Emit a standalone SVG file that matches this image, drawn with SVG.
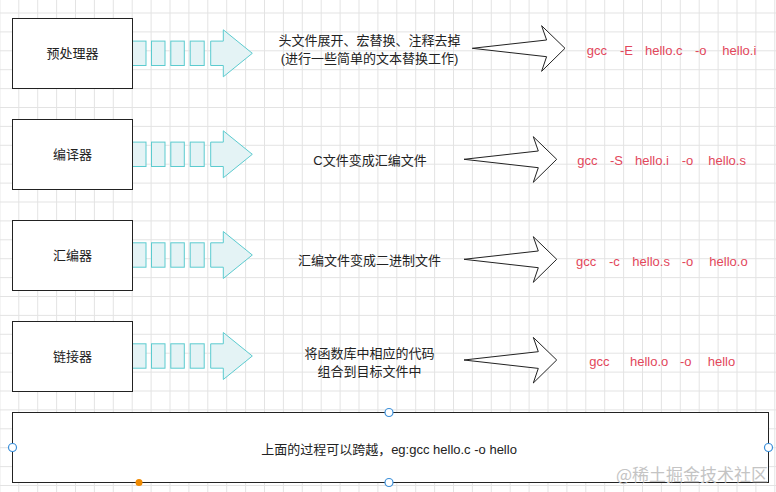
<svg xmlns="http://www.w3.org/2000/svg" width="776" height="492" viewBox="0 0 776 492">
<defs>
<style>
.box{fill:#ffffff;stroke:#222222;stroke-width:1}
.lbl{font-family:"Liberation Sans","Noto Sans CJK SC",sans-serif;font-size:13px;fill:#222222;text-anchor:middle}
.cmd{font-family:"Liberation Sans","Noto Sans CJK SC",sans-serif;font-size:13px;fill:#e2475b}
.cy{fill:#e4f3f5;stroke:#5ccbcf;stroke-width:1}
.out{fill:#ffffff;stroke:#222222;stroke-width:1;stroke-linejoin:miter}
.hdl{fill:#ffffff;stroke:#3b8fd9;stroke-width:1.2}
.wm{font-family:"Noto Sans CJK SC",sans-serif;font-size:17px;fill:#c4c4c4}
</style>
<pattern id="grid" patternUnits="userSpaceOnUse" x="18.3" y="12.5" width="18.9" height="18.9">
<path d="M0 0.5H18.9M0.5 0V18.9" fill="none" stroke="#e3e3e3" stroke-width="1"/>
</pattern>
<g id="cyanArrow">
<rect class="cy" x="132.5" y="-12.2" width="13.5" height="24.4"/>
<rect class="cy" x="151.5" y="-12.2" width="13.5" height="24.4"/>
<rect class="cy" x="170.8" y="-12.2" width="13.5" height="24.4"/>
<rect class="cy" x="190.2" y="-12.2" width="14" height="24.4"/>
<path class="cy" d="M210.7,-12.2H223.3V-23.5L252.3,0L223.3,23.5V12.2H210.7Z"/>
</g>
<path id="outArrow" class="out" d="M0,0L74.3,-8.3L69.3,-22.6L92.7,0L69.3,23L74.3,8.4Z"/>
</defs>
<rect width="776" height="492" fill="#ffffff"/>
<rect width="776" height="492" fill="url(#grid)"/>

<g id="connectors">
<use href="#cyanArrow" transform="translate(0,53.3)"/>
<use href="#cyanArrow" transform="translate(0,154.3)"/>
<use href="#cyanArrow" transform="translate(0,255)"/>
<use href="#cyanArrow" transform="translate(0,356)"/>
<use href="#outArrow" transform="translate(472.3,48.3)"/>
<use href="#outArrow" transform="translate(464,159.3)"/>
<use href="#outArrow" transform="translate(464,259.3)"/>
<use href="#outArrow" transform="translate(464,360)"/>
</g>

<g id="preprocessor">
<rect class="box" x="12.5" y="18.5" width="120" height="70"/>
<text class="lbl" x="72.5" y="58">预处理器</text>
</g>
<g id="compiler">
<rect class="box" x="12.5" y="119.5" width="120" height="70"/>
<text class="lbl" x="72.5" y="159">编译器</text>
</g>
<g id="assembler">
<rect class="box" x="12.5" y="220.5" width="120" height="70"/>
<text class="lbl" x="72.5" y="260">汇编器</text>
</g>
<g id="linker">
<rect class="box" x="12.5" y="321.5" width="120" height="70"/>
<text class="lbl" x="72.5" y="361">链接器</text>
</g>

<g id="desc1">
<text class="lbl" x="369.5" y="44.5">头文件展开、宏替换、注释去掉</text>
<text class="lbl" x="369.5" y="63">(进行一些简单的文本替换工作)</text>
</g>
<g id="desc2">
<text class="lbl" x="370" y="164.8">C文件变成汇编文件</text>
</g>
<g id="desc3">
<text class="lbl" x="369.5" y="264.8">汇编文件变成二进制文件</text>
</g>
<g id="desc4">
<text class="lbl" x="369.5" y="358">将函数库中相应的代码</text>
<text class="lbl" x="369.5" y="376.4">组合到目标文件中</text>
</g>

<g id="cmd1">
<text class="cmd" y="54.5"><tspan x="586.7">gcc</tspan><tspan x="620">-E</tspan><tspan x="645">hello.c</tspan><tspan x="695">-o</tspan><tspan x="722.3">hello.i</tspan></text>
</g>
<g id="cmd2">
<text class="cmd" y="165.2"><tspan x="577.3">gcc</tspan><tspan x="610">-S</tspan><tspan x="635">hello.i</tspan><tspan x="681.7">-o</tspan><tspan x="708.3">hello.s</tspan></text>
</g>
<g id="cmd3">
<text class="cmd" y="266.2"><tspan x="576">gcc</tspan><tspan x="609">-c</tspan><tspan x="632.3">hello.s</tspan><tspan x="681.7">-o</tspan><tspan x="709.3">hello.o</tspan></text>
</g>
<g id="cmd4">
<text class="cmd" y="366.2"><tspan x="589.3">gcc</tspan><tspan x="630">hello.o</tspan><tspan x="680">-o</tspan><tspan x="707.7">hello</tspan></text>
</g>

<g id="note">
<rect class="box" x="12.5" y="412.5" width="756" height="70"/>
<text class="lbl" x="389" y="453.5">上面的过程可以跨越，eg:gcc hello.c -o hello</text>
<circle class="hdl" cx="389" cy="412.5" r="4"/>
<circle class="hdl" cx="389" cy="482.5" r="4"/>
<circle class="hdl" cx="12.5" cy="447.5" r="4"/>
<circle class="hdl" cx="768.5" cy="447.5" r="4"/>
<circle cx="139" cy="482.5" r="3.5" fill="#f08a00"/>
</g>
<text class="wm" x="768" y="481" text-anchor="end">@稀土掘金技术社区</text>
</svg>
